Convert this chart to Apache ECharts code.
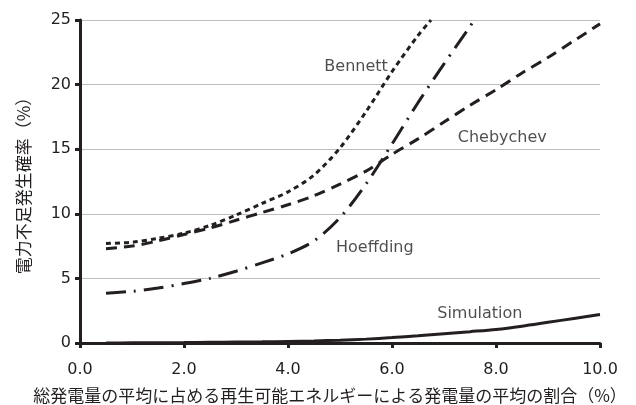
<!DOCTYPE html>
<html><head><meta charset="utf-8">
<script src="https://cdn.jsdelivr.net/npm/echarts@6/dist/echarts.min.js"></script>
<style>html,body{margin:0;padding:0;background:#fff}#c{width:636px;height:405px}</style>
</head><body><div id="c"></div>
<script>
const xValues = [0.5,1,1.5,2,2.5,3,3.5,4,4.5,5,5.5,6,6.5,7,7.5,8,8.5,9,9.5,10];
const bennett = [7.7,7.8,8.1,8.5,9.1,9.9,10.8,11.7,13.0,15.1,17.9,21.0,23.8,null,null,null,null,null,null,null];
const bennettEnd = [6.75,25];
const chebychev = [7.3,7.5,7.9,8.4,8.9,9.5,10.1,10.7,11.4,12.3,13.3,14.6,15.8,17.1,18.4,19.6,20.9,22.1,23.4,24.7];
const hoeffding = [3.85,4.0,4.25,4.6,5.0,5.55,6.2,6.9,7.9,9.7,12.3,15.4,18.6,21.6,24.5,null,null,null,null,null];
const hoeffdingEnd = [7.58,25];
const simulation = [0.0,0.01,0.02,0.03,0.05,0.07,0.09,0.12,0.16,0.22,0.3,0.42,0.56,0.72,0.88,1.05,1.3,1.6,1.9,2.2];
const seriesLabels = [[5.31,21.4,'Bennett'],[8.12,15.9,'Chebychev'],[5.67,7.4,'Hoeffding'],[7.69,2.25,'Simulation']];

function pairs(vals, end){
  const out = [];
  vals.forEach((v,i)=>{ if(v!==null) out.push([xValues[i], v]); });
  if(end) out.push(end);
  return out;
}
const font = '"DejaVu Sans", "Noto Sans CJK JP", sans-serif';
const cjk = '"Noto Sans CJK JP", "DejaVu Sans", sans-serif';
const chart = echarts.init(document.getElementById('c'));
const lineBase = {type:'line', symbol:'none', smooth:0.3, clip:true, z:3};
chart.setOption({
  animation:false,
  textStyle:{fontFamily:font},
  grid:{left:80,right:36,top:20,bottom:62,containLabel:false,outerBoundsMode:'none'},
  xAxis:{type:'value',min:0,max:10,interval:2,
    axisLine:{show:true,lineStyle:{color:'#231f20',width:3}},
    axisTick:{show:true,length:5,lineStyle:{color:'#231f20',width:3}},
    axisLabel:{color:'#231f20',fontSize:16,margin:19,formatter:v=>v.toFixed(1),fontFamily:font},
    splitLine:{show:false},
    name:'総発電量の平均に占める再生可能エネルギーによる発電量の平均の割合（%）',
    nameLocation:'middle',nameGap:44,
    nameTextStyle:{color:'#231f20',fontSize:17,fontFamily:cjk,padding:[0,20,0,0]}
  },
  yAxis:{type:'value',min:0,max:25,interval:5,
    axisLine:{show:true,lineStyle:{color:'#231f20',width:3}},
    axisTick:{show:true,length:5,lineStyle:{color:'#231f20',width:3}},
    axisLabel:{color:'#231f20',fontSize:16,margin:9,fontFamily:font},
    splitLine:{show:true,lineStyle:{color:'#bdbdbd',width:1.2}},
    name:'電力不足発生確率（%）',nameLocation:'middle',nameGap:48,nameRotate:90,
    nameTextStyle:{color:'#231f20',fontSize:17,fontFamily:cjk}
  },
  series:[
    Object.assign({},lineBase,{name:'Bennett',data:pairs(bennett,bennettEnd),
      lineStyle:{color:'#231f20',width:3,type:[5,4]}}),
    Object.assign({},lineBase,{name:'Chebychev',data:pairs(chebychev),
      lineStyle:{color:'#231f20',width:3,type:[11,7]}}),
    Object.assign({},lineBase,{name:'Hoeffding',data:pairs(hoeffding,hoeffdingEnd),
      lineStyle:{color:'#231f20',width:3,type:[20,8,2,8]}}),
    Object.assign({},lineBase,{name:'Simulation',data:pairs(simulation),
      lineStyle:{color:'#231f20',width:3,type:'solid'}}),
    {type:'scatter',symbolSize:0,data:seriesLabels,z:5,silent:true,
      label:{show:true,position:'inside',formatter:p=>p.data[2],color:'#231f20',fontSize:16,fontFamily:font}}
  ]
});
</script></body></html>
